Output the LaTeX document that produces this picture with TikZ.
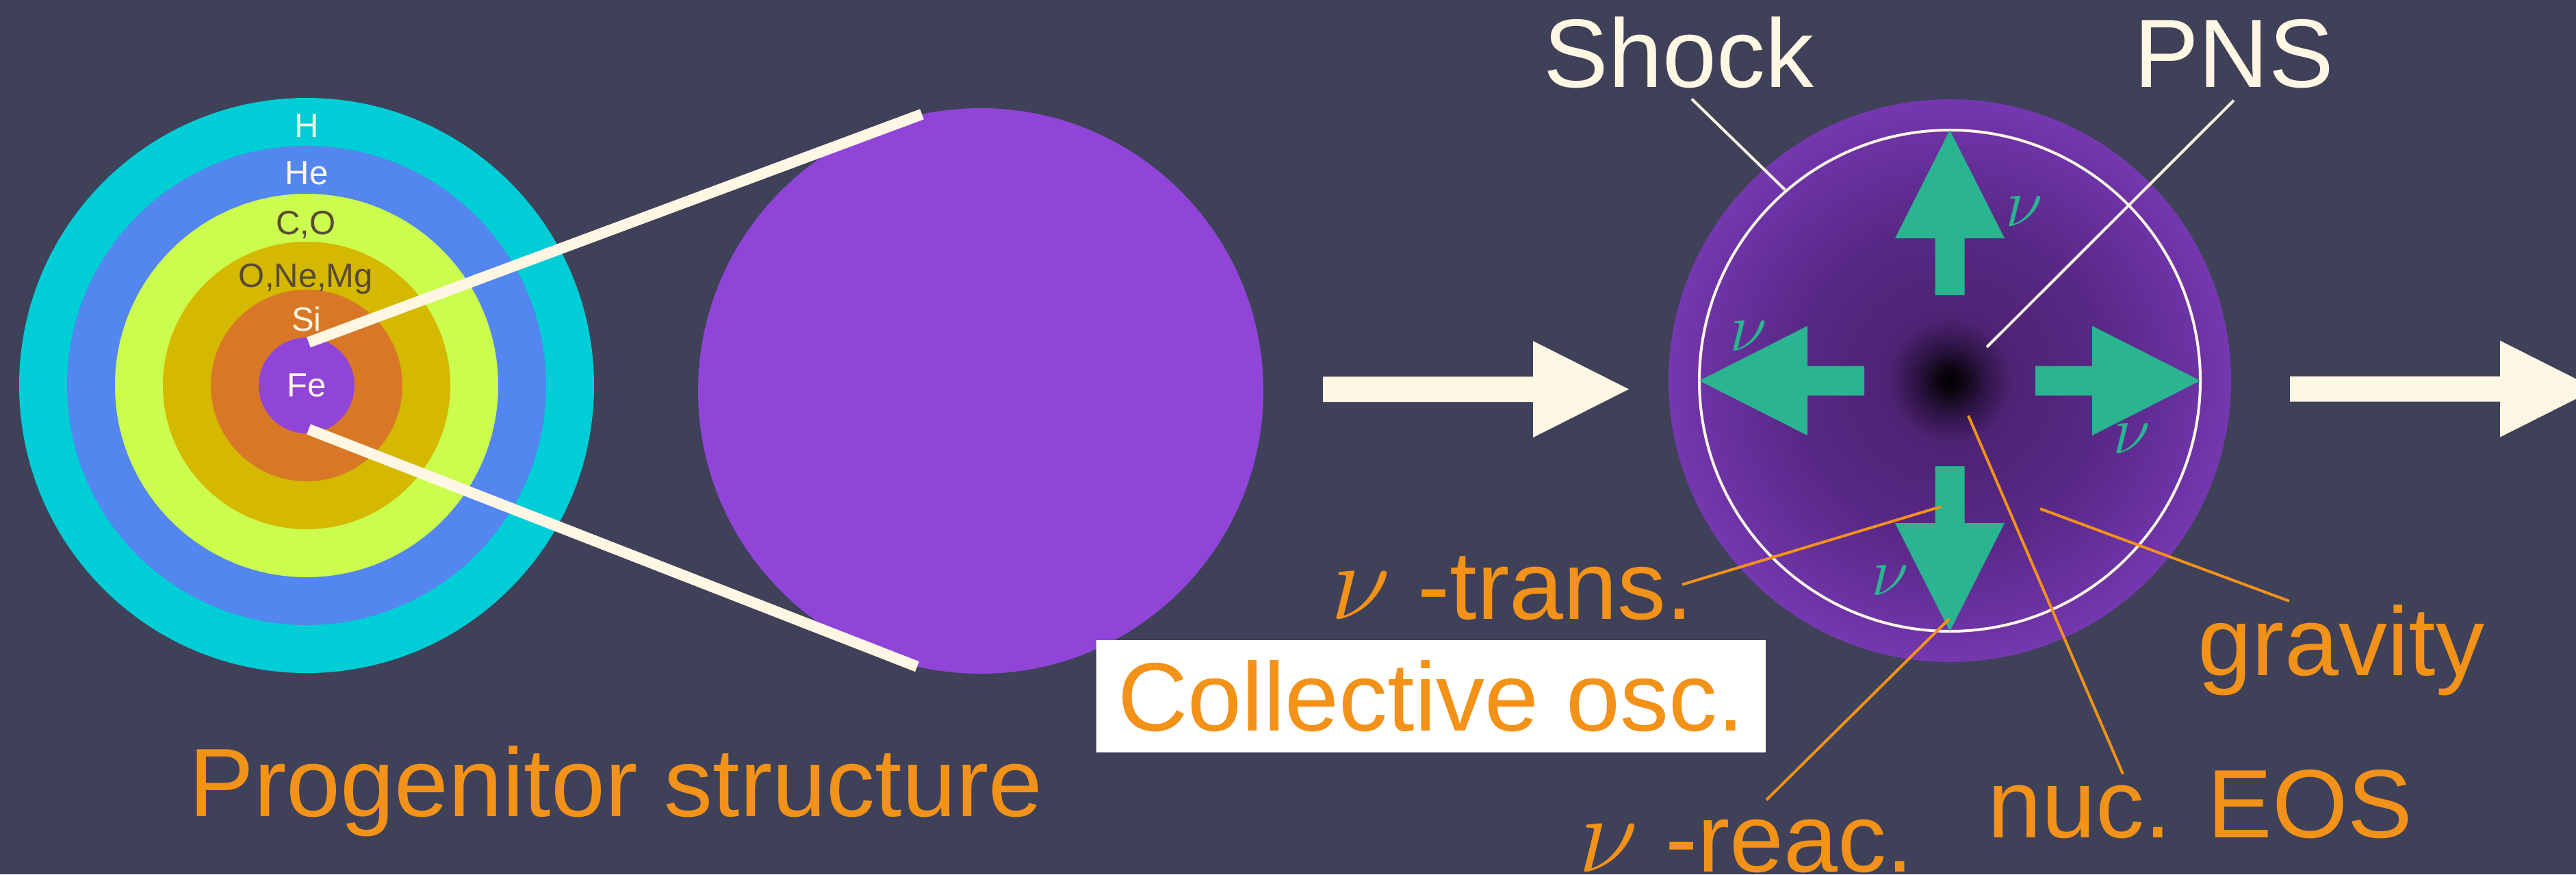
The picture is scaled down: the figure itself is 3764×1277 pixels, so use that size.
\RequirePackage{fix-cm}
\documentclass[tikz,border=0pt]{standalone}
\usepackage{fontspec}
\setmainfont{Liberation Sans}
\usepackage{xcolor}
\usepackage{tikz}
\usetikzlibrary{calc}

\definecolor{slate}{RGB}{63,65,89}
\definecolor{shellH}{RGB}{0,205,214}
\definecolor{shellHe}{RGB}{83,134,238}
\definecolor{shellCO}{RGB}{204,252,78}
\definecolor{shellONe}{RGB}{213,184,0}
\definecolor{shellSi}{RGB}{216,120,38}
\definecolor{ironcore}{RGB}{144,69,216}
\definecolor{cream}{RGB}{255,246,228}
\definecolor{nugreen}{RGB}{42,180,143}
\definecolor{tagorange}{RGB}{243,146,25}
\definecolor{inktext}{RGB}{88,74,52}
\definecolor{pnsedge}{RGB}{117,56,175}
\definecolor{pnsouter}{RGB}{108,51,164}
\definecolor{pnsmid}{RGB}{88,40,134}
\definecolor{pnsinner}{RGB}{78,35,116}
\definecolor{pnsdim}{RGB}{45,20,68}
\definecolor{pnsblack}{RGB}{14,6,20}

\pgfdeclareradialshading{pnsglow}{\pgfpoint{0bp}{0bp}}{%
  color(0bp)=(black); color(1.2bp)=(pnsblack); color(3bp)=(pnsdim);
  color(5.5bp)=(pnsinner); color(14bp)=(pnsmid); color(22bp)=(pnsouter);
  color(25bp)=(pnsedge); color(50bp)=(pnsedge)}

\newcommand\bignu{{\fontsize{160}{160}\selectfont$\nu$}}

\tikzset{
  ringtag/.style={font=\fontsize{49}{59}\selectfont,anchor=base,inner sep=0pt},
  bigtag/.style={font=\fontsize{142}{170}\selectfont,anchor=base,inner sep=0pt},
  nutag/.style={text=nugreen,font=\fontsize{100}{100}\selectfont,inner sep=0pt},
  leader/.style={line width=4pt},
  progline/.style={cream,line width=16pt},
  flowarrow/.pic={\fill[cream] (0,-18.5) -- (307,-18.5) -- (307,-70.5) -- (447,0)
    -- (307,70.5) -- (307,18.5) -- (0,18.5) -- cycle;},
  nuarrow/.pic={\fill[nugreen] (125,-21.5) -- (208,-21.5) -- (208,-80) -- (366,0)
    -- (208,80) -- (208,21.5) -- (125,21.5) -- cycle;}
}

\begin{document}
\begin{tikzpicture}[x=1pt,y=-1pt,line join=round]
  \useasboundingbox (0,0) rectangle (3764,1277);
  \fill[slate] (0,0) rectangle (3764,1277);

  % onion shells of the progenitor
  \foreach \r/\c in {420/shellH,350/shellHe,280/shellCO,210/shellONe,140/shellSi}
    \fill[\c] (448,563) circle[radius=\r];
  \node[circle,fill=ironcore,minimum size=140pt,inner sep=0pt,text=cream,
    font=\fontsize{49}{59}\selectfont] (fe) at (448,563) {Fe};
  \node[ringtag,text=cream] (tH) at (448,200) {H};
  \node[ringtag,text=cream] (tHe) at (448,269) {He};
  \node[ringtag,text=inktext] (tCO) at (447,342) {C,O};
  \node[ringtag,text=inktext] (tONe) at (447,419) {O,Ne,Mg};
  \node[ringtag,text=cream] (tSi) at (448,483) {Si};

  % zoomed iron core
  \node[circle,fill=ironcore,minimum size=826pt,inner sep=0pt] (corebig) at (1433,571) {};
  \draw[progline] ([shift={(3,-63)}]fe.center) -- (corebig.102.5);
  \draw[progline] ([shift={(3,64)}]fe.center) -- (corebig.257.5);

  \node[bigtag,text=tagorange] (prog) at (900,1192) {Progenitor structure};
  \node[fill=white,text=tagorange,font=\fontsize{142}{170}\selectfont,inner sep=0pt,
    minimum width=978pt,minimum height=164pt] (osc) at (2091,1017) {Collective osc.};

  \pic at (1933,568.5) {flowarrow};
  \pic at (3346,568) {flowarrow};

  % collapsed core with shock and neutrino flux
  \shade[shading=pnsglow] (2849,556) circle[radius=411];
  \draw[cream,line width=4pt] (2849,556) circle[radius=366];
  \foreach \a in {0,90,180,-90}
    \pic[rotate=\a] at (2849,556) {nuarrow};
  \node[nutag] (nuU) at (2958,309) {$\nu$};
  \node[nutag] (nuL) at (2555,491) {$\nu$};
  \node[nutag] (nuR) at (3115,641) {$\nu$};
  \node[nutag] (nuD) at (2762,848) {$\nu$};

  \coordinate (shockP) at (2608,277);
  \coordinate (pnsP) at (2903,507);
  \coordinate (transP) at (2836,740);
  \coordinate (reacP) at (2848,904);
  \coordinate (eosP) at (2876,607);
  \coordinate (gravP) at (2981,743);

  \node[bigtag,text=cream] (shock) at (2453,127) {Shock};
  \node[bigtag,text=cream] (pns) at (3264,127) {PNS};
  \node[bigtag,text=tagorange] (trans) at (2209,904) {\bignu\ -trans.};
  \node[bigtag,text=tagorange] (reac) at (2551,1273) {\bignu\ -reac.};
  \node[bigtag,text=tagorange] (eos) at (3215,1223) {nuc. EOS};
  \node[bigtag,text=tagorange] (grav) at (3421,986) {gravity};

  \draw[leader,cream] ([shift={(19,16)}]shock.south) -- (shockP);
  \draw[leader,cream] ([shift={(0,18)}]pns.south) -- (pnsP);
  \draw[leader,tagorange] ([shift={(-16,-5)}]trans.east) -- (transP);
  \draw[leader,tagorange] ([shift={(30,-28)}]reac.north) -- (reacP);
  \draw[leader,tagorange] ([shift={(-113,7)}]eos.north) -- (eosP);
  \draw[leader,tagorange] ([shift={(-76,-5)}]grav.north) -- (gravP);
\end{tikzpicture}
\end{document}
